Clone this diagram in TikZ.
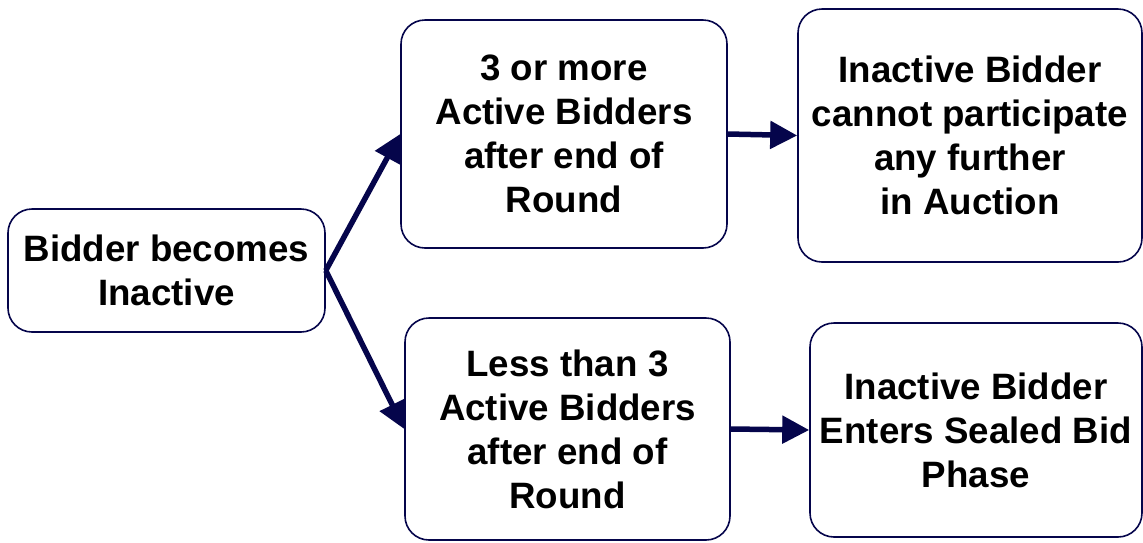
\documentclass[tikz,border=0pt]{standalone}
\usepackage{fontspec}
\setmainfont{Liberation Sans}
\usetikzlibrary{arrows.meta}
\definecolor{navyline}{RGB}{5,5,75}

\begin{document}
\begin{tikzpicture}[x=1pt,y=-1pt]
  \tikzset{stage/.style={shape=rectangle,draw=navyline,line width=1.6pt,rounded corners=24pt,
      align=center,inner sep=0pt,font=\fontsize{36.7}{44}\selectfont\bfseries},
    flow/.style={draw=navyline,line width=5.5pt,-{Triangle[length=27pt,width=27pt]}}};
  \useasboundingbox (0,0) rectangle (1143,542);
  \node[stage,minimum width=317pt,minimum height=123pt] (inactive) at (166.5,270.5){Bidder becomes\\Inactive};
  \node[stage,minimum width=326pt,minimum height=228pt] (more) at (564,134){3 or more\\Active Bidders\\after end of\\Round};
  \node[stage,minimum width=344pt,minimum height=253pt] (out) at (970,135.5){Inactive Bidder\\cannot participate\\any further\\in Auction};
  \node[stage,minimum width=325pt,minimum height=222pt] (less) at (567.5,429){Less than 3\\Active Bidders\\after end of\\Round};
  \node[stage,minimum width=332pt,minimum height=214pt] (sealed) at (976,430){Inactive Bidder\\Enters Sealed Bid\\Phase};
  \draw[flow] (inactive.east) -- (more.west);
  \draw[flow] (inactive.east) -- (less.west);
  \draw[flow] (more.east) -- (out.west);
  \draw[flow] (less.east) -- (sealed.west);
\end{tikzpicture}
\end{document}
